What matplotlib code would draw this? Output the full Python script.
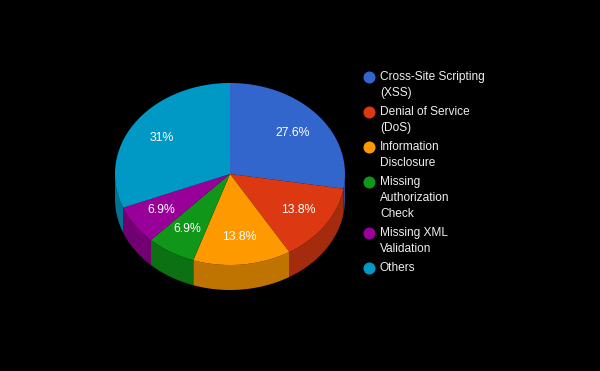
import matplotlib.pyplot as plt
import numpy as np

# counts of findings per category
categories = ['Cross-Site Scripting (XSS)', 'Denial of Service (DoS)', 'Information Disclosure',
              'Missing Authorization Check', 'Missing XML Validation', 'Others']
legend_text = ['Cross-Site Scripting\n(XSS)', 'Denial of Service\n(DoS)', 'Information\nDisclosure',
               'Missing\nAuthorization\nCheck', 'Missing XML\nValidation', 'Others']
counts = [8, 4, 4, 2, 2, 9]
colors = ['#3366CC', '#DC3912', '#FF9900', '#109618', '#990099', '#0099C6']

plt.rcParams['font.family'] = ['Liberation Sans', 'DejaVu Sans']

fig = plt.figure(figsize=(6, 3.71), dpi=100, facecolor='black')
ax = fig.add_axes([0, 0, 1, 1])
ax.set_facecolor('black')
ax.set_xlim(0, 600)
ax.set_ylim(371, 0)
ax.axis('off')

# pie geometry (pixels)
cx, cy, rx, ry, depth = 230, 174, 115, 91, 25

def pt(theta, dy=0):
    # theta in degrees, clockwise from 12 o'clock
    t = np.radians(theta)
    return cx + rx * np.sin(t), cy - ry * np.cos(t) + dy

def darker(c, f=0.75):
    r, g, b = [int(c[i:i + 2], 16) / 255 for i in (1, 3, 5)]
    return (r * f, g * f, b * f)

total = sum(counts)
pct = [100 * v / total for v in counts]
bounds = np.concatenate([[0], np.cumsum(counts) / total * 360])

# side walls (front half only)
for i, col in enumerate(colors):
    a, b = max(bounds[i], 90), min(bounds[i + 1], 270)
    if b <= a:
        continue
    th = np.linspace(a, b, 60)
    xs, ys = pt(th)
    xb, yb = pt(th[::-1], depth)
    ax.fill(np.concatenate([xs, xb]), np.concatenate([ys, yb]), color=darker(col), lw=0)

# top faces
for i, col in enumerate(colors):
    th = np.linspace(bounds[i], bounds[i + 1], 120)
    xs, ys = pt(th)
    ax.fill(np.concatenate([[cx], xs]), np.concatenate([[cy], ys]), color=col, lw=0)

# slice labels
for i, p in enumerate(pct):
    mid = (bounds[i] + bounds[i + 1]) / 2
    t = np.radians(mid)
    lx = cx + 0.72 * rx * np.sin(t)
    ly = cy - 0.7 * ry * np.cos(t)
    s = f'{p:.1f}'.rstrip('0').rstrip('.') + '%'
    ax.text(lx, ly, s, color='white', fontsize=8.8, ha='center', va='center')

# legend
y = 77
for col, txt in zip(colors, legend_text):
    ax.scatter([369], [y], s=75, color=col, lw=0)
    lines = txt.split('\n')
    for k, ln in enumerate(lines):
        ax.text(380, y + 16 * k, ln, color='#eeeeee', fontsize=8.6, ha='left', va='center')
    y += 16 * len(lines) + 3

fig.savefig('out.png', dpi=100, facecolor='black')
